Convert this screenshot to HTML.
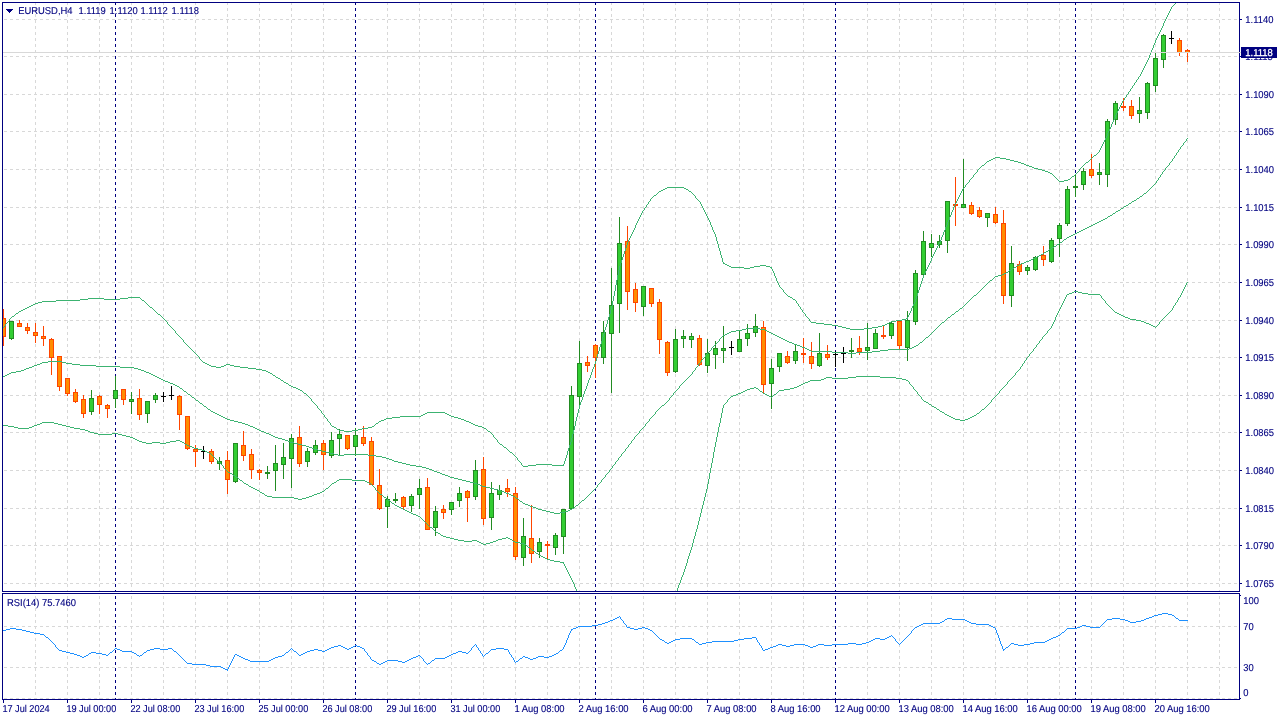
<!DOCTYPE html><html><head><meta charset="utf-8"><title>EURUSD,H4</title><style>html,body{margin:0;padding:0;background:#fff;overflow:hidden}svg{display:block}text{stroke:#000080;stroke-width:.12px}</style></head><body><svg width="1280" height="720" viewBox="0 0 1280 720" font-family="Liberation Sans, sans-serif" font-size="10" text-rendering="geometricPrecision" fill="#000080">
<rect width="1280" height="720" fill="#fff"/>
<defs><clipPath id="cm"><rect x="3" y="3" width="1236" height="588"/></clipPath><clipPath id="cr"><rect x="3" y="594" width="1236" height="105"/></clipPath></defs>
<g shape-rendering="crispEdges" stroke="#d8d8d8" stroke-width="1" stroke-dasharray="3 3" fill="none"><path d="M35.5 2V699"/><path d="M67.5 2V699"/><path d="M99.5 2V699"/><path d="M131.5 2V699"/><path d="M163.5 2V699"/><path d="M195.5 2V699"/><path d="M227.5 2V699"/><path d="M259.5 2V699"/><path d="M291.5 2V699"/><path d="M323.5 2V699"/><path d="M355.5 2V699"/><path d="M387.5 2V699"/><path d="M419.5 2V699"/><path d="M451.5 2V699"/><path d="M483.5 2V699"/><path d="M515.5 2V699"/><path d="M547.5 2V699"/><path d="M579.5 2V699"/><path d="M611.5 2V699"/><path d="M643.5 2V699"/><path d="M675.5 2V699"/><path d="M707.5 2V699"/><path d="M739.5 2V699"/><path d="M771.5 2V699"/><path d="M803.5 2V699"/><path d="M835.5 2V699"/><path d="M867.5 2V699"/><path d="M899.5 2V699"/><path d="M931.5 2V699"/><path d="M963.5 2V699"/><path d="M995.5 2V699"/><path d="M1027.5 2V699"/><path d="M1059.5 2V699"/><path d="M1091.5 2V699"/><path d="M1123.5 2V699"/><path d="M1155.5 2V699"/><path d="M1187.5 2V699"/><path d="M1219.5 2V699"/><path d="M4 19.5H1239"/><path d="M4 56.5H1239"/><path d="M4 94.5H1239"/><path d="M4 131.5H1239"/><path d="M4 169.5H1239"/><path d="M4 207.5H1239"/><path d="M4 244.5H1239"/><path d="M4 282.5H1239"/><path d="M4 320.5H1239"/><path d="M4 357.5H1239"/><path d="M4 395.5H1239"/><path d="M4 432.5H1239"/><path d="M4 470.5H1239"/><path d="M4 508.5H1239"/><path d="M4 545.5H1239"/><path d="M4 583.5H1239"/><path d="M4 626.5H1239"/><path d="M4 667.5H1239"/><path d="M4 698.5H1239"/></g>
<path shape-rendering="crispEdges" d="M115.5 2V699M355.5 2V699M595.5 2V699M835.5 2V699M1075.5 2V699" stroke="#000080" stroke-width="1" stroke-dasharray="3 3" fill="none"/>
<g clip-path="url(#cm)" shape-rendering="crispEdges"><path d="M3.5 309V346" stroke="#ff4500" fill="none"/><rect x="1" y="318" width="5" height="19" fill="#ff4500"/><rect x="2" y="319" width="3" height="17" fill="#ff8c00"/><path d="M11.5 321V340" stroke="#228b22" fill="none"/><rect x="9" y="321" width="5" height="18" fill="#228b22"/><rect x="10" y="322" width="3" height="16" fill="#32cd32"/><path d="M19.5 320V327" stroke="#ff4500" fill="none"/><rect x="17" y="323" width="5" height="4" fill="#ff4500"/><rect x="18" y="324" width="3" height="2" fill="#ff8c00"/><path d="M27.5 323V334" stroke="#ff4500" fill="none"/><rect x="25" y="327" width="5" height="4" fill="#ff4500"/><rect x="26" y="328" width="3" height="2" fill="#ff8c00"/><path d="M35.5 323V343" stroke="#ff4500" fill="none"/><rect x="33" y="332" width="5" height="4" fill="#ff4500"/><rect x="34" y="333" width="3" height="2" fill="#ff8c00"/><path d="M43.5 326V346" stroke="#ff4500" fill="none"/><rect x="41" y="336" width="5" height="3" fill="#ff4500"/><rect x="42" y="337" width="3" height="1" fill="#ff8c00"/><path d="M51.5 338V375" stroke="#ff4500" fill="none"/><rect x="49" y="339" width="5" height="19" fill="#ff4500"/><rect x="50" y="340" width="3" height="17" fill="#ff8c00"/><path d="M59.5 356V391" stroke="#ff4500" fill="none"/><rect x="57" y="356" width="5" height="31" fill="#ff4500"/><rect x="58" y="357" width="3" height="29" fill="#ff8c00"/><path d="M67.5 378V396" stroke="#ff4500" fill="none"/><rect x="65" y="378" width="5" height="16" fill="#ff4500"/><rect x="66" y="379" width="3" height="14" fill="#ff8c00"/><path d="M75.5 389V403" stroke="#ff4500" fill="none"/><rect x="73" y="392" width="5" height="10" fill="#ff4500"/><rect x="74" y="393" width="3" height="8" fill="#ff8c00"/><path d="M83.5 395V418" stroke="#ff4500" fill="none"/><rect x="81" y="399" width="5" height="15" fill="#ff4500"/><rect x="82" y="400" width="3" height="13" fill="#ff8c00"/><path d="M91.5 390V415" stroke="#228b22" fill="none"/><rect x="89" y="398" width="5" height="14" fill="#228b22"/><rect x="90" y="399" width="3" height="12" fill="#32cd32"/><path d="M99.5 395V414" stroke="#ff4500" fill="none"/><rect x="97" y="396" width="5" height="9" fill="#ff4500"/><rect x="98" y="397" width="3" height="7" fill="#ff8c00"/><path d="M107.5 404V418" stroke="#ff4500" fill="none"/><rect x="105" y="405" width="5" height="4" fill="#ff4500"/><rect x="106" y="406" width="3" height="2" fill="#ff8c00"/><path d="M115.5 376V408" stroke="#228b22" fill="none"/><rect x="113" y="390" width="5" height="9" fill="#228b22"/><rect x="114" y="391" width="3" height="7" fill="#32cd32"/><path d="M123.5 389V405" stroke="#ff4500" fill="none"/><rect x="121" y="389" width="5" height="11" fill="#ff4500"/><rect x="122" y="390" width="3" height="9" fill="#ff8c00"/><path d="M131.5 392V414" stroke="#228b22" fill="none"/><rect x="129" y="399" width="5" height="3" fill="#228b22"/><rect x="130" y="400" width="3" height="1" fill="#32cd32"/><path d="M139.5 389V420" stroke="#ff4500" fill="none"/><rect x="137" y="398" width="5" height="17" fill="#ff4500"/><rect x="138" y="399" width="3" height="15" fill="#ff8c00"/><path d="M147.5 401V423" stroke="#228b22" fill="none"/><rect x="145" y="401" width="5" height="13" fill="#228b22"/><rect x="146" y="402" width="3" height="11" fill="#32cd32"/><path d="M155.5 393V403" stroke="#228b22" fill="none"/><rect x="153" y="395" width="5" height="5" fill="#228b22"/><rect x="154" y="396" width="3" height="3" fill="#32cd32"/><path d="M163.5 392V402M161 396.5H166" stroke="#000" fill="none"/><path d="M171.5 386V400M169 395.5H174" stroke="#000" fill="none"/><path d="M179.5 395V430" stroke="#ff4500" fill="none"/><rect x="177" y="396" width="5" height="19" fill="#ff4500"/><rect x="178" y="397" width="3" height="17" fill="#ff8c00"/><path d="M187.5 416V450" stroke="#ff4500" fill="none"/><rect x="185" y="416" width="5" height="33" fill="#ff4500"/><rect x="186" y="417" width="3" height="31" fill="#ff8c00"/><path d="M195.5 445V467" stroke="#ff4500" fill="none"/><rect x="193" y="449" width="5" height="3" fill="#ff4500"/><rect x="194" y="450" width="3" height="1" fill="#ff8c00"/><path d="M203.5 446V459M201 451.5H206" stroke="#000" fill="none"/><path d="M211.5 449V464" stroke="#ff4500" fill="none"/><rect x="209" y="451" width="5" height="11" fill="#ff4500"/><rect x="210" y="452" width="3" height="9" fill="#ff8c00"/><path d="M219.5 457V470" stroke="#228b22" fill="none"/><rect x="217" y="461" width="5" height="3" fill="#228b22"/><rect x="218" y="462" width="3" height="1" fill="#32cd32"/><path d="M227.5 451V494" stroke="#ff4500" fill="none"/><rect x="225" y="460" width="5" height="20" fill="#ff4500"/><rect x="226" y="461" width="3" height="18" fill="#ff8c00"/><path d="M235.5 443V483" stroke="#228b22" fill="none"/><rect x="233" y="443" width="5" height="39" fill="#228b22"/><rect x="234" y="444" width="3" height="37" fill="#32cd32"/><path d="M243.5 431V461" stroke="#ff4500" fill="none"/><rect x="241" y="445" width="5" height="11" fill="#ff4500"/><rect x="242" y="446" width="3" height="9" fill="#ff8c00"/><path d="M251.5 449V479" stroke="#ff4500" fill="none"/><rect x="249" y="454" width="5" height="16" fill="#ff4500"/><rect x="250" y="455" width="3" height="14" fill="#ff8c00"/><path d="M259.5 469V480" stroke="#ff4500" fill="none"/><rect x="257" y="470" width="5" height="3" fill="#ff4500"/><rect x="258" y="471" width="3" height="1" fill="#ff8c00"/><path d="M267.5 466V479" stroke="#228b22" fill="none"/><rect x="265" y="472" width="5" height="2" fill="#228b22"/><path d="M275.5 445V491" stroke="#228b22" fill="none"/><rect x="273" y="463" width="5" height="8" fill="#228b22"/><rect x="274" y="464" width="3" height="6" fill="#32cd32"/><path d="M283.5 443V479" stroke="#228b22" fill="none"/><rect x="281" y="457" width="5" height="8" fill="#228b22"/><rect x="282" y="458" width="3" height="6" fill="#32cd32"/><path d="M291.5 434V488" stroke="#228b22" fill="none"/><rect x="289" y="438" width="5" height="21" fill="#228b22"/><rect x="290" y="439" width="3" height="19" fill="#32cd32"/><path d="M299.5 426V467" stroke="#ff4500" fill="none"/><rect x="297" y="437" width="5" height="27" fill="#ff4500"/><rect x="298" y="438" width="3" height="25" fill="#ff8c00"/><path d="M307.5 448V467" stroke="#228b22" fill="none"/><rect x="305" y="451" width="5" height="11" fill="#228b22"/><rect x="306" y="452" width="3" height="9" fill="#32cd32"/><path d="M315.5 440V455" stroke="#228b22" fill="none"/><rect x="313" y="445" width="5" height="8" fill="#228b22"/><rect x="314" y="446" width="3" height="6" fill="#32cd32"/><path d="M323.5 440V470" stroke="#ff4500" fill="none"/><rect x="321" y="443" width="5" height="12" fill="#ff4500"/><rect x="322" y="444" width="3" height="10" fill="#ff8c00"/><path d="M331.5 432V458" stroke="#228b22" fill="none"/><rect x="329" y="440" width="5" height="16" fill="#228b22"/><rect x="330" y="441" width="3" height="14" fill="#32cd32"/><path d="M339.5 429V456" stroke="#228b22" fill="none"/><rect x="337" y="434" width="5" height="5" fill="#228b22"/><rect x="338" y="435" width="3" height="3" fill="#32cd32"/><path d="M347.5 435V450" stroke="#ff4500" fill="none"/><rect x="345" y="435" width="5" height="14" fill="#ff4500"/><rect x="346" y="436" width="3" height="12" fill="#ff8c00"/><path d="M355.5 428V456" stroke="#228b22" fill="none"/><rect x="353" y="435" width="5" height="12" fill="#228b22"/><rect x="354" y="436" width="3" height="10" fill="#32cd32"/><path d="M363.5 426V446" stroke="#ff4500" fill="none"/><rect x="361" y="437" width="5" height="7" fill="#ff4500"/><rect x="362" y="438" width="3" height="5" fill="#ff8c00"/><path d="M371.5 437V485" stroke="#ff4500" fill="none"/><rect x="369" y="441" width="5" height="44" fill="#ff4500"/><rect x="370" y="442" width="3" height="42" fill="#ff8c00"/><path d="M379.5 469V510" stroke="#ff4500" fill="none"/><rect x="377" y="485" width="5" height="24" fill="#ff4500"/><rect x="378" y="486" width="3" height="22" fill="#ff8c00"/><path d="M387.5 496V528" stroke="#228b22" fill="none"/><rect x="385" y="499" width="5" height="8" fill="#228b22"/><rect x="386" y="500" width="3" height="6" fill="#32cd32"/><path d="M395.5 493V503" stroke="#228b22" fill="none"/><rect x="393" y="499" width="5" height="2" fill="#228b22"/><path d="M403.5 496V509" stroke="#ff4500" fill="none"/><rect x="401" y="497" width="5" height="10" fill="#ff4500"/><rect x="402" y="498" width="3" height="8" fill="#ff8c00"/><path d="M411.5 494V512" stroke="#228b22" fill="none"/><rect x="409" y="496" width="5" height="10" fill="#228b22"/><rect x="410" y="497" width="3" height="8" fill="#32cd32"/><path d="M419.5 479V509" stroke="#228b22" fill="none"/><rect x="417" y="488" width="5" height="7" fill="#228b22"/><rect x="418" y="489" width="3" height="5" fill="#32cd32"/><path d="M427.5 478V530" stroke="#ff4500" fill="none"/><rect x="425" y="487" width="5" height="43" fill="#ff4500"/><rect x="426" y="488" width="3" height="41" fill="#ff8c00"/><path d="M435.5 506V536" stroke="#228b22" fill="none"/><rect x="433" y="511" width="5" height="17" fill="#228b22"/><rect x="434" y="512" width="3" height="15" fill="#32cd32"/><path d="M443.5 505V519" stroke="#ff4500" fill="none"/><rect x="441" y="509" width="5" height="4" fill="#ff4500"/><rect x="442" y="510" width="3" height="2" fill="#ff8c00"/><path d="M451.5 502V515" stroke="#228b22" fill="none"/><rect x="449" y="502" width="5" height="8" fill="#228b22"/><rect x="450" y="503" width="3" height="6" fill="#32cd32"/><path d="M459.5 487V507" stroke="#228b22" fill="none"/><rect x="457" y="493" width="5" height="8" fill="#228b22"/><rect x="458" y="494" width="3" height="6" fill="#32cd32"/><path d="M467.5 490V522" stroke="#ff4500" fill="none"/><rect x="465" y="491" width="5" height="7" fill="#ff4500"/><rect x="466" y="492" width="3" height="5" fill="#ff8c00"/><path d="M475.5 460V500" stroke="#228b22" fill="none"/><rect x="473" y="470" width="5" height="27" fill="#228b22"/><rect x="474" y="471" width="3" height="25" fill="#32cd32"/><path d="M483.5 457V525" stroke="#ff4500" fill="none"/><rect x="481" y="469" width="5" height="50" fill="#ff4500"/><rect x="482" y="470" width="3" height="48" fill="#ff8c00"/><path d="M491.5 482V530" stroke="#228b22" fill="none"/><rect x="489" y="493" width="5" height="25" fill="#228b22"/><rect x="490" y="494" width="3" height="23" fill="#32cd32"/><path d="M499.5 485V500" stroke="#228b22" fill="none"/><rect x="497" y="490" width="5" height="5" fill="#228b22"/><rect x="498" y="491" width="3" height="3" fill="#32cd32"/><path d="M507.5 479V497" stroke="#ff4500" fill="none"/><rect x="505" y="488" width="5" height="4" fill="#ff4500"/><rect x="506" y="489" width="3" height="2" fill="#ff8c00"/><path d="M515.5 487V560" stroke="#ff4500" fill="none"/><rect x="513" y="493" width="5" height="64" fill="#ff4500"/><rect x="514" y="494" width="3" height="62" fill="#ff8c00"/><path d="M523.5 518V566" stroke="#228b22" fill="none"/><rect x="521" y="536" width="5" height="22" fill="#228b22"/><rect x="522" y="537" width="3" height="20" fill="#32cd32"/><path d="M531.5 505V563" stroke="#ff4500" fill="none"/><rect x="529" y="538" width="5" height="16" fill="#ff4500"/><rect x="530" y="539" width="3" height="14" fill="#ff8c00"/><path d="M539.5 538V558" stroke="#228b22" fill="none"/><rect x="537" y="542" width="5" height="10" fill="#228b22"/><rect x="538" y="543" width="3" height="8" fill="#32cd32"/><path d="M547.5 541V559" stroke="#ff4500" fill="none"/><rect x="545" y="544" width="5" height="2" fill="#ff4500"/><path d="M555.5 533V555" stroke="#228b22" fill="none"/><rect x="553" y="535" width="5" height="13" fill="#228b22"/><rect x="554" y="536" width="3" height="11" fill="#32cd32"/><path d="M563.5 509V554" stroke="#228b22" fill="none"/><rect x="561" y="509" width="5" height="28" fill="#228b22"/><rect x="562" y="510" width="3" height="26" fill="#32cd32"/><path d="M571.5 386V509" stroke="#228b22" fill="none"/><rect x="569" y="395" width="5" height="114" fill="#228b22"/><rect x="570" y="396" width="3" height="112" fill="#32cd32"/><path d="M579.5 341V406" stroke="#228b22" fill="none"/><rect x="577" y="363" width="5" height="34" fill="#228b22"/><rect x="578" y="364" width="3" height="32" fill="#32cd32"/><path d="M587.5 356V372" stroke="#ff4500" fill="none"/><rect x="585" y="362" width="5" height="4" fill="#ff4500"/><rect x="586" y="363" width="3" height="2" fill="#ff8c00"/><path d="M595.5 344V378" stroke="#ff4500" fill="none"/><rect x="593" y="345" width="5" height="13" fill="#ff4500"/><rect x="594" y="346" width="3" height="11" fill="#ff8c00"/><path d="M603.5 321V364" stroke="#228b22" fill="none"/><rect x="601" y="332" width="5" height="26" fill="#228b22"/><rect x="602" y="333" width="3" height="24" fill="#32cd32"/><path d="M611.5 268V393" stroke="#228b22" fill="none"/><rect x="609" y="305" width="5" height="29" fill="#228b22"/><rect x="610" y="306" width="3" height="27" fill="#32cd32"/><path d="M619.5 217V333" stroke="#228b22" fill="none"/><rect x="617" y="243" width="5" height="61" fill="#228b22"/><rect x="618" y="244" width="3" height="59" fill="#32cd32"/><path d="M627.5 226V310" stroke="#ff4500" fill="none"/><rect x="625" y="241" width="5" height="51" fill="#ff4500"/><rect x="626" y="242" width="3" height="49" fill="#ff8c00"/><path d="M635.5 283V312" stroke="#ff4500" fill="none"/><rect x="633" y="289" width="5" height="14" fill="#ff4500"/><rect x="634" y="290" width="3" height="12" fill="#ff8c00"/><path d="M643.5 286V316" stroke="#228b22" fill="none"/><rect x="641" y="286" width="5" height="21" fill="#228b22"/><rect x="642" y="287" width="3" height="19" fill="#32cd32"/><path d="M651.5 288V307" stroke="#ff4500" fill="none"/><rect x="649" y="288" width="5" height="16" fill="#ff4500"/><rect x="650" y="289" width="3" height="14" fill="#ff8c00"/><path d="M659.5 299V354" stroke="#ff4500" fill="none"/><rect x="657" y="302" width="5" height="38" fill="#ff4500"/><rect x="658" y="303" width="3" height="36" fill="#ff8c00"/><path d="M667.5 341V376" stroke="#ff4500" fill="none"/><rect x="665" y="342" width="5" height="31" fill="#ff4500"/><rect x="666" y="343" width="3" height="29" fill="#ff8c00"/><path d="M675.5 329V373" stroke="#228b22" fill="none"/><rect x="673" y="339" width="5" height="33" fill="#228b22"/><rect x="674" y="340" width="3" height="31" fill="#32cd32"/><path d="M683.5 330V348" stroke="#228b22" fill="none"/><rect x="681" y="336" width="5" height="3" fill="#228b22"/><rect x="682" y="337" width="3" height="1" fill="#32cd32"/><path d="M691.5 333V348" stroke="#228b22" fill="none"/><rect x="689" y="336" width="5" height="4" fill="#228b22"/><rect x="690" y="337" width="3" height="2" fill="#32cd32"/><path d="M699.5 335V366" stroke="#ff4500" fill="none"/><rect x="697" y="338" width="5" height="27" fill="#ff4500"/><rect x="698" y="339" width="3" height="25" fill="#ff8c00"/><path d="M707.5 339V373" stroke="#228b22" fill="none"/><rect x="705" y="353" width="5" height="13" fill="#228b22"/><rect x="706" y="354" width="3" height="11" fill="#32cd32"/><path d="M715.5 341V369" stroke="#228b22" fill="none"/><rect x="713" y="348" width="5" height="7" fill="#228b22"/><rect x="714" y="349" width="3" height="5" fill="#32cd32"/><path d="M723.5 326V363" stroke="#228b22" fill="none"/><rect x="721" y="348" width="5" height="3" fill="#228b22"/><rect x="722" y="349" width="3" height="1" fill="#32cd32"/><path d="M731.5 341V355M729 347.5H734" stroke="#000" fill="none"/><path d="M739.5 330V352" stroke="#228b22" fill="none"/><rect x="737" y="339" width="5" height="13" fill="#228b22"/><rect x="738" y="340" width="3" height="11" fill="#32cd32"/><path d="M747.5 324V346" stroke="#228b22" fill="none"/><rect x="745" y="333" width="5" height="6" fill="#228b22"/><rect x="746" y="334" width="3" height="4" fill="#32cd32"/><path d="M755.5 314V337" stroke="#228b22" fill="none"/><rect x="753" y="326" width="5" height="7" fill="#228b22"/><rect x="754" y="327" width="3" height="5" fill="#32cd32"/><path d="M763.5 321V394" stroke="#ff4500" fill="none"/><rect x="761" y="327" width="5" height="58" fill="#ff4500"/><rect x="762" y="328" width="3" height="56" fill="#ff8c00"/><path d="M771.5 359V409" stroke="#228b22" fill="none"/><rect x="769" y="368" width="5" height="16" fill="#228b22"/><rect x="770" y="369" width="3" height="14" fill="#32cd32"/><path d="M779.5 353V372" stroke="#228b22" fill="none"/><rect x="777" y="353" width="5" height="14" fill="#228b22"/><rect x="778" y="354" width="3" height="12" fill="#32cd32"/><path d="M787.5 351V364" stroke="#ff4500" fill="none"/><rect x="785" y="356" width="5" height="7" fill="#ff4500"/><rect x="786" y="357" width="3" height="5" fill="#ff8c00"/><path d="M795.5 344V364" stroke="#228b22" fill="none"/><rect x="793" y="351" width="5" height="10" fill="#228b22"/><rect x="794" y="352" width="3" height="8" fill="#32cd32"/><path d="M803.5 338V363" stroke="#ff4500" fill="none"/><rect x="801" y="353" width="5" height="2" fill="#ff4500"/><path d="M811.5 342V369" stroke="#ff4500" fill="none"/><rect x="809" y="356" width="5" height="8" fill="#ff4500"/><rect x="810" y="357" width="3" height="6" fill="#ff8c00"/><path d="M819.5 333V367" stroke="#228b22" fill="none"/><rect x="817" y="353" width="5" height="13" fill="#228b22"/><rect x="818" y="354" width="3" height="11" fill="#32cd32"/><path d="M827.5 345V360" stroke="#ff4500" fill="none"/><rect x="825" y="354" width="5" height="4" fill="#ff4500"/><rect x="826" y="355" width="3" height="2" fill="#ff8c00"/><path d="M835.5 351V367M833 354.5H838" stroke="#000" fill="none"/><path d="M843.5 347V363M841 353.5H846" stroke="#000" fill="none"/><path d="M851.5 338V358" stroke="#228b22" fill="none"/><rect x="849" y="350" width="5" height="2" fill="#228b22"/><path d="M859.5 336V355" stroke="#ff4500" fill="none"/><rect x="857" y="348" width="5" height="4" fill="#ff4500"/><rect x="858" y="349" width="3" height="2" fill="#ff8c00"/><path d="M867.5 323V360" stroke="#228b22" fill="none"/><rect x="865" y="347" width="5" height="4" fill="#228b22"/><rect x="866" y="348" width="3" height="2" fill="#32cd32"/><path d="M875.5 329V349" stroke="#228b22" fill="none"/><rect x="873" y="333" width="5" height="16" fill="#228b22"/><rect x="874" y="334" width="3" height="14" fill="#32cd32"/><path d="M883.5 326V339" stroke="#ff4500" fill="none"/><rect x="881" y="335" width="5" height="2" fill="#ff4500"/><path d="M891.5 322V339" stroke="#228b22" fill="none"/><rect x="889" y="323" width="5" height="13" fill="#228b22"/><rect x="890" y="324" width="3" height="11" fill="#32cd32"/><path d="M899.5 320V350" stroke="#ff4500" fill="none"/><rect x="897" y="321" width="5" height="25" fill="#ff4500"/><rect x="898" y="322" width="3" height="23" fill="#ff8c00"/><path d="M907.5 311V361" stroke="#228b22" fill="none"/><rect x="905" y="320" width="5" height="28" fill="#228b22"/><rect x="906" y="321" width="3" height="26" fill="#32cd32"/><path d="M915.5 270V325" stroke="#228b22" fill="none"/><rect x="913" y="273" width="5" height="49" fill="#228b22"/><rect x="914" y="274" width="3" height="47" fill="#32cd32"/><path d="M923.5 231V277" stroke="#228b22" fill="none"/><rect x="921" y="241" width="5" height="34" fill="#228b22"/><rect x="922" y="242" width="3" height="32" fill="#32cd32"/><path d="M931.5 234V257" stroke="#228b22" fill="none"/><rect x="929" y="243" width="5" height="5" fill="#228b22"/><rect x="930" y="244" width="3" height="3" fill="#32cd32"/><path d="M939.5 235V248" stroke="#228b22" fill="none"/><rect x="937" y="241" width="5" height="4" fill="#228b22"/><rect x="938" y="242" width="3" height="2" fill="#32cd32"/><path d="M947.5 201V253" stroke="#228b22" fill="none"/><rect x="945" y="201" width="5" height="40" fill="#228b22"/><rect x="946" y="202" width="3" height="38" fill="#32cd32"/><path d="M955.5 177V226" stroke="#ff4500" fill="none"/><rect x="953" y="204" width="5" height="2" fill="#ff4500"/><path d="M963.5 159V208" stroke="#228b22" fill="none"/><rect x="961" y="204" width="5" height="4" fill="#228b22"/><rect x="962" y="205" width="3" height="2" fill="#32cd32"/><path d="M971.5 202V215" stroke="#ff4500" fill="none"/><rect x="969" y="205" width="5" height="9" fill="#ff4500"/><rect x="970" y="206" width="3" height="7" fill="#ff8c00"/><path d="M979.5 207V218" stroke="#ff4500" fill="none"/><rect x="977" y="210" width="5" height="7" fill="#ff4500"/><rect x="978" y="211" width="3" height="5" fill="#ff8c00"/><path d="M987.5 213V227" stroke="#228b22" fill="none"/><rect x="985" y="213" width="5" height="5" fill="#228b22"/><rect x="986" y="214" width="3" height="3" fill="#32cd32"/><path d="M995.5 207V224" stroke="#ff4500" fill="none"/><rect x="993" y="214" width="5" height="9" fill="#ff4500"/><rect x="994" y="215" width="3" height="7" fill="#ff8c00"/><path d="M1003.5 210V304" stroke="#ff4500" fill="none"/><rect x="1001" y="223" width="5" height="73" fill="#ff4500"/><rect x="1002" y="224" width="3" height="71" fill="#ff8c00"/><path d="M1011.5 246V307" stroke="#228b22" fill="none"/><rect x="1009" y="263" width="5" height="33" fill="#228b22"/><rect x="1010" y="264" width="3" height="31" fill="#32cd32"/><path d="M1019.5 261V275" stroke="#ff4500" fill="none"/><rect x="1017" y="264" width="5" height="8" fill="#ff4500"/><rect x="1018" y="265" width="3" height="6" fill="#ff8c00"/><path d="M1027.5 265V275" stroke="#228b22" fill="none"/><rect x="1025" y="267" width="5" height="4" fill="#228b22"/><rect x="1026" y="268" width="3" height="2" fill="#32cd32"/><path d="M1035.5 256V271" stroke="#228b22" fill="none"/><rect x="1033" y="257" width="5" height="13" fill="#228b22"/><rect x="1034" y="258" width="3" height="11" fill="#32cd32"/><path d="M1043.5 246V266" stroke="#ff4500" fill="none"/><rect x="1041" y="255" width="5" height="5" fill="#ff4500"/><rect x="1042" y="256" width="3" height="3" fill="#ff8c00"/><path d="M1051.5 238V263" stroke="#228b22" fill="none"/><rect x="1049" y="240" width="5" height="22" fill="#228b22"/><rect x="1050" y="241" width="3" height="20" fill="#32cd32"/><path d="M1059.5 223V257" stroke="#228b22" fill="none"/><rect x="1057" y="225" width="5" height="14" fill="#228b22"/><rect x="1058" y="226" width="3" height="12" fill="#32cd32"/><path d="M1067.5 186V226" stroke="#228b22" fill="none"/><rect x="1065" y="189" width="5" height="35" fill="#228b22"/><rect x="1066" y="190" width="3" height="33" fill="#32cd32"/><path d="M1075.5 174V197" stroke="#228b22" fill="none"/><rect x="1073" y="186" width="5" height="2" fill="#228b22"/><path d="M1083.5 168V190" stroke="#228b22" fill="none"/><rect x="1081" y="171" width="5" height="14" fill="#228b22"/><rect x="1082" y="172" width="3" height="12" fill="#32cd32"/><path d="M1091.5 154V178" stroke="#ff4500" fill="none"/><rect x="1089" y="169" width="5" height="7" fill="#ff4500"/><rect x="1090" y="170" width="3" height="5" fill="#ff8c00"/><path d="M1099.5 163V185" stroke="#228b22" fill="none"/><rect x="1097" y="172" width="5" height="3" fill="#228b22"/><rect x="1098" y="173" width="3" height="1" fill="#32cd32"/><path d="M1107.5 119V187" stroke="#228b22" fill="none"/><rect x="1105" y="121" width="5" height="54" fill="#228b22"/><rect x="1106" y="122" width="3" height="52" fill="#32cd32"/><path d="M1115.5 101V125" stroke="#228b22" fill="none"/><rect x="1113" y="103" width="5" height="17" fill="#228b22"/><rect x="1114" y="104" width="3" height="15" fill="#32cd32"/><path d="M1123.5 98V111" stroke="#ff4500" fill="none"/><rect x="1121" y="106" width="5" height="2" fill="#ff4500"/><path d="M1131.5 100V119" stroke="#ff4500" fill="none"/><rect x="1129" y="106" width="5" height="10" fill="#ff4500"/><rect x="1130" y="107" width="3" height="8" fill="#ff8c00"/><path d="M1139.5 97V123" stroke="#228b22" fill="none"/><rect x="1137" y="110" width="5" height="4" fill="#228b22"/><rect x="1138" y="111" width="3" height="2" fill="#32cd32"/><path d="M1147.5 82V119" stroke="#228b22" fill="none"/><rect x="1145" y="83" width="5" height="30" fill="#228b22"/><rect x="1146" y="84" width="3" height="28" fill="#32cd32"/><path d="M1155.5 52V92" stroke="#228b22" fill="none"/><rect x="1153" y="58" width="5" height="28" fill="#228b22"/><rect x="1154" y="59" width="3" height="26" fill="#32cd32"/><path d="M1163.5 34V68" stroke="#228b22" fill="none"/><rect x="1161" y="35" width="5" height="25" fill="#228b22"/><rect x="1162" y="36" width="3" height="23" fill="#32cd32"/><path d="M1171.5 31V44M1169 38.5H1174" stroke="#000" fill="none"/><path d="M1179.5 38V56" stroke="#ff4500" fill="none"/><rect x="1177" y="40" width="5" height="13" fill="#ff4500"/><rect x="1178" y="41" width="3" height="11" fill="#ff8c00"/><path d="M1187.5 49V62" stroke="#ff4500" fill="none"/><rect x="1185" y="50" width="5" height="3" fill="#ff4500"/><rect x="1186" y="51" width="3" height="1" fill="#ff8c00"/></g>
<path shape-rendering="crispEdges" d="M3.5 327v1M4.5 326v1M5.5 324v2M6.5 323v1M7.5 322v1M8.5 321v1M9.5 319v2M10.5 318v1M11 317.5h1M12 316.5h2M14 315.5h1M15 314.5h1M16 313.5h2M18 312.5h1M19 311.5h2M21 310.5h2M23 309.5h2M25 308.5h2M27 307.5h2M29 306.5h2M31 305.5h2M33 304.5h2M35 303.5h3M38 302.5h4M42 301.5h1M43 301.5h8M51 301.5h5M56 300.5h3M59 300.5h8M67 300.5h8M75 300.5h5M80 299.5h3M83 299.5h5M88 298.5h3M91 298.5h8M99 298.5h5M104 299.5h3M107 299.5h8M115 299.5h5M120 298.5h3M123 298.5h5M128 297.5h3M131 297.5h8M139 297.5h1M140 298.5h1M141 299.5h1M142 300.5h2M144 301.5h1M145 302.5h1M146 303.5h1M147 304.5h1M148 305.5h1M149 306.5h1M150 307.5h2M152 308.5h1M153 309.5h1M154 310.5h1M155 311.5h1M156 312.5h1M157 313.5h1M158 314.5h2M160 315.5h1M161 316.5h1M162 317.5h1M163.5 318v1M164.5 319v1M165.5 320v1M166.5 321v1M167.5 322v2M168.5 324v1M169.5 325v1M170.5 326v1M171.5 327v1M172.5 328v1M173.5 329v1M174.5 330v1M175.5 331v2M176.5 333v1M177.5 334v1M178.5 335v1M179.5 336v1M180.5 337v1M181.5 338v1M182.5 339v1M183.5 340v2M184.5 342v1M185.5 343v1M186.5 344v1M187 345.5h1M188 346.5h1M189 347.5h1M190 348.5h1M191 349.5h1M192 350.5h1M193 351.5h1M194 352.5h1M195.5 353v1M196.5 354v1M197.5 355v1M198.5 356v1M199.5 357v2M200.5 359v1M201.5 360v1M202.5 361v1M203 362.5h2M205 363.5h2M207 364.5h2M209 365.5h2M211 366.5h5M216 367.5h3M219 367.5h2M221 366.5h3M224 365.5h2M226 364.5h1M227 364.5h3M230 365.5h4M234 366.5h1M235 366.5h5M240 367.5h3M243 367.5h5M248 368.5h3M251 368.5h5M256 369.5h3M259 369.5h3M262 370.5h4M266 371.5h1M267 371.5h1M268 372.5h2M270 373.5h2M272 374.5h1M273 375.5h2M275 376.5h1M276 377.5h2M278 378.5h2M280 379.5h1M281 380.5h2M283 381.5h1M284 382.5h2M286 383.5h2M288 384.5h1M289 385.5h2M291 386.5h2M293 387.5h3M296 388.5h2M298 389.5h1M299 389.5h1M300 390.5h2M302 391.5h1M303 392.5h1M304 393.5h2M306 394.5h1M307.5 395v1M308.5 396v1M309.5 397v1M310.5 398v1M311.5 399v2M312.5 401v1M313.5 402v1M314.5 403v1M315.5 404v1M316.5 405v1M317.5 406v2M318.5 408v1M319.5 409v1M320.5 410v1M321.5 411v2M322.5 413v1M323.5 414v1M324.5 415v2M325.5 417v1M326.5 418v1M327.5 419v2M328.5 421v1M329.5 422v1M330.5 423v2M331 425.5h1M332 426.5h2M334 427.5h2M336 428.5h1M337 429.5h2M339 430.5h5M344 431.5h3M347 431.5h5M352 430.5h3M355 430.5h3M358 429.5h4M362 428.5h1M363 428.5h5M368 427.5h3M371 427.5h1M372 426.5h2M374 425.5h1M375 424.5h1M376 423.5h2M378 422.5h1M379 421.5h2M381 420.5h3M384 419.5h2M386 418.5h1M387 418.5h5M392 417.5h3M395 417.5h5M400 416.5h3M403 416.5h8M411 416.5h8M419 416.5h2M421 415.5h2M423 414.5h2M425 413.5h2M427 412.5h8M435 412.5h8M443 412.5h2M445 413.5h2M447 414.5h2M449 415.5h2M451 416.5h3M454 417.5h4M458 418.5h1M459 418.5h2M461 419.5h3M464 420.5h2M466 421.5h1M467 421.5h2M469 422.5h2M471 423.5h2M473 424.5h2M475 425.5h3M478 426.5h4M482 427.5h1M483 427.5h1M484 428.5h2M486 429.5h1M487 430.5h1M488 431.5h2M490 432.5h1M491.5 433v1M492.5 434v1M493.5 435v2M494.5 437v1M495.5 438v1M496.5 439v1M497.5 440v2M498.5 442v1M499 443.5h1M500 444.5h2M502 445.5h1M503 446.5h1M504 447.5h2M506 448.5h1M507 449.5h1M508 450.5h1M509 451.5h1M510 452.5h2M512 453.5h1M513 454.5h1M514 455.5h1M515.5 456v1M516.5 457v1M517.5 458v2M518.5 460v1M519.5 461v1M520.5 462v1M521.5 463v2M522.5 465v1M523 466.5h5M528 465.5h3M531 465.5h5M536 464.5h3M539 464.5h8M547 464.5h5M552 465.5h3M555 465.5h8M563.5 464v2M564.5 461v3M565.5 458v3M566.5 455v3M567.5 451v4M568.5 448v3M569.5 445v3M570.5 442v3M571.5 441v1M571.5 438v3M572.5 434v4M573.5 430v4M574.5 426v4M575.5 421v5M576.5 417v4M577.5 413v4M578.5 409v4M579.5 407v2M579.5 405v2M580.5 402v3M581.5 400v2M582.5 397v3M583.5 394v3M584.5 391v3M585.5 389v2M586.5 386v3M587.5 385v1M587.5 383v2M588.5 380v3M589.5 378v2M590.5 375v3M591.5 372v3M592.5 369v3M593.5 367v2M594.5 364v3M595.5 363v1M595.5 361v2M596.5 357v4M597.5 354v3M598.5 351v3M599.5 347v4M600.5 344v3M601.5 341v3M602.5 337v4M603.5 336v1M603.5 334v2M604.5 330v4M605.5 327v3M606.5 324v3M607.5 320v4M608.5 317v3M609.5 314v3M610.5 310v4M611.5 309v1M611.5 306v3M612.5 301v5M613.5 296v5M614.5 291v5M615.5 285v6M616.5 280v5M617.5 275v5M618.5 270v5M619.5 268v2M619.5 266v2M620.5 263v3M621.5 260v3M622.5 257v3M623.5 254v3M624.5 251v3M625.5 248v3M626.5 245v3M627.5 244v1M627.5 242v2M628.5 240v2M629.5 238v2M630.5 236v2M631.5 234v2M632.5 232v2M633.5 230v2M634.5 228v2M635.5 227v1M635.5 225v2M636.5 223v2M637.5 221v2M638.5 219v2M639.5 217v2M640.5 215v2M641.5 213v2M642.5 211v2M643.5 210v1M644.5 208v2M645.5 207v1M646.5 205v2M647.5 204v1M648.5 202v2M649.5 201v1M650.5 199v2M651 198.5h1M652 197.5h1M653 196.5h1M654 195.5h2M656 194.5h1M657 193.5h1M658 192.5h1M659 191.5h2M661 190.5h2M663 189.5h2M665 188.5h2M667 187.5h8M675 187.5h8M683 187.5h1M684 188.5h2M686 189.5h2M688 190.5h1M689 191.5h2M691.5 192v1M692.5 193v1M693.5 194v1M694.5 195v1M695.5 196v2M696.5 198v1M697.5 199v1M698.5 200v1M699.5 201v1M700.5 202v2M701.5 204v2M702.5 206v2M703.5 208v2M704.5 210v2M705.5 212v2M706.5 214v2M707.5 216v2M708.5 218v2M709.5 220v2M710.5 222v3M711.5 225v2M712.5 227v3M713.5 230v2M714.5 232v2M715.5 234v1M715.5 235v2M716.5 237v4M717.5 241v3M718.5 244v4M719.5 248v3M720.5 251v4M721.5 255v3M722.5 258v4M723.5 262v1M723 263.5h2M725 264.5h2M727 265.5h2M729 266.5h2M731 267.5h8M739 267.5h5M744 268.5h3M747 268.5h3M750 267.5h4M754 266.5h1M755 266.5h5M760 265.5h3M763 265.5h3M766 266.5h4M770 267.5h1M771.5 267v2M772.5 269v2M773.5 271v2M774.5 273v3M775.5 276v2M776.5 278v3M777.5 281v2M778.5 283v2M779.5 285v1M779.5 286v1M780.5 287v1M781.5 288v1M782.5 289v1M783.5 290v2M784.5 292v1M785.5 293v1M786.5 294v1M787 295.5h1M788 296.5h2M790 297.5h2M792 298.5h1M793 299.5h2M795.5 300v1M796.5 301v2M797.5 303v1M798.5 304v2M799.5 306v1M800.5 307v2M801.5 309v1M802.5 310v2M803.5 312v1M804.5 313v1M805.5 314v2M806.5 316v1M807.5 317v1M808.5 318v1M809.5 319v2M810.5 321v1M811 322.5h5M816 323.5h3M819 323.5h5M824 324.5h3M827 324.5h5M832 325.5h3M835 325.5h3M838 326.5h4M842 327.5h1M843 327.5h3M846 328.5h4M850 329.5h1M851 329.5h8M859 329.5h5M864 328.5h3M867 328.5h5M872 327.5h3M875 327.5h3M878 326.5h4M882 325.5h1M883 325.5h2M885 324.5h2M887 323.5h2M889 322.5h2M891 321.5h5M896 320.5h3M899 320.5h3M902 319.5h4M906 318.5h1M907.5 317v2M908.5 315v2M909.5 313v2M910.5 311v2M911.5 308v3M912.5 306v2M913.5 304v2M914.5 302v2M915.5 301v1M915.5 299v2M916.5 296v3M917.5 293v3M918.5 290v3M919.5 287v3M920.5 284v3M921.5 281v3M922.5 278v3M923.5 277v1M923.5 275v2M924.5 273v2M925.5 271v2M926.5 269v2M927.5 267v2M928.5 265v2M929.5 263v2M930.5 261v2M931.5 260v1M931.5 258v2M932.5 256v2M933.5 254v2M934.5 252v2M935.5 250v2M936.5 248v2M937.5 246v2M938.5 244v2M939.5 242v2M940.5 240v2M941.5 237v3M942.5 235v2M943.5 232v3M944.5 230v2M945.5 227v3M946.5 225v2M947.5 224v1M947.5 222v2M948.5 220v2M949.5 217v3M950.5 215v2M951.5 212v3M952.5 210v2M953.5 207v3M954.5 205v2M955.5 204v1M955.5 203v1M956.5 201v2M957.5 199v2M958.5 197v2M959.5 195v2M960.5 193v2M961.5 191v2M962.5 189v2M963.5 188v1M964.5 187v1M965.5 185v2M966.5 184v1M967.5 183v1M968.5 182v1M969.5 180v2M970.5 179v1M971.5 178v1M972.5 177v1M973.5 175v2M974.5 174v1M975.5 173v1M976.5 172v1M977.5 170v2M978.5 169v1M979 168.5h1M980 167.5h1M981 166.5h1M982 165.5h2M984 164.5h1M985 163.5h1M986 162.5h1M987 161.5h2M989 160.5h2M991 159.5h2M993 158.5h2M995 157.5h5M1000 158.5h3M1003 158.5h3M1006 159.5h4M1010 160.5h1M1011 160.5h3M1014 161.5h4M1018 162.5h1M1019 162.5h2M1021 163.5h3M1024 164.5h2M1026 165.5h1M1027 165.5h2M1029 166.5h3M1032 167.5h2M1034 168.5h1M1035 168.5h3M1038 169.5h4M1042 170.5h1M1043 170.5h2M1045 171.5h3M1048 172.5h2M1050 173.5h1M1051 173.5h1M1052 174.5h1M1053 175.5h1M1054 176.5h1M1055 177.5h1M1056 178.5h1M1057 179.5h1M1058 180.5h1M1059 181.5h5M1064 180.5h3M1067 180.5h1M1068 179.5h2M1070 178.5h1M1071 177.5h1M1072 176.5h2M1074 175.5h1M1075.5 174v1M1076.5 173v1M1077.5 172v1M1078.5 171v1M1079.5 169v2M1080.5 168v1M1081.5 167v1M1082.5 166v1M1083 165.5h1M1084 164.5h1M1085 163.5h1M1086 162.5h2M1088 161.5h1M1089 160.5h1M1090 159.5h1M1091 158.5h1M1092 157.5h1M1093 156.5h1M1094 155.5h2M1096 154.5h1M1097 153.5h1M1098 152.5h1M1099.5 150v2M1100.5 148v2M1101.5 146v2M1102.5 144v2M1103.5 142v2M1104.5 140v2M1105.5 138v2M1106.5 136v2M1107.5 135v1M1107.5 133v2M1108.5 131v2M1109.5 129v2M1110.5 127v2M1111.5 124v3M1112.5 122v2M1113.5 120v2M1114.5 118v2M1115.5 117v1M1115.5 115v2M1116.5 113v2M1117.5 111v2M1118.5 109v2M1119.5 107v2M1120.5 105v2M1121.5 103v2M1122.5 101v2M1123.5 100v1M1124.5 98v2M1125.5 97v1M1126.5 95v2M1127.5 94v1M1128.5 92v2M1129.5 91v1M1130.5 89v2M1131.5 88v1M1132.5 86v2M1133.5 85v1M1134.5 83v2M1135.5 82v1M1136.5 80v2M1137.5 79v1M1138.5 77v2M1139.5 76v1M1140.5 74v2M1141.5 72v2M1142.5 70v2M1143.5 68v2M1144.5 66v2M1145.5 64v2M1146.5 62v2M1147.5 60v2M1148.5 58v2M1149.5 55v3M1150.5 53v2M1151.5 50v3M1152.5 48v2M1153.5 45v3M1154.5 43v2M1155.5 42v1M1155.5 40v2M1156.5 38v2M1157.5 36v2M1158.5 34v2M1159.5 32v2M1160.5 30v2M1161.5 28v2M1162.5 26v2M1163.5 25v1M1163.5 23v2M1164.5 21v2M1165.5 19v2M1166.5 17v2M1167.5 15v2M1168.5 13v2M1169.5 11v2M1170.5 9v2M1171.5 8v1M1171.5 7v1M1172.5 6v1M1173.5 5v1M1174.5 4v1M1175.5 3v1" fill="none" stroke="#3cb371" stroke-width="1"/>
<path shape-rendering="crispEdges" d="M3 376.5h2M5 375.5h2M7 374.5h2M9 373.5h2M11 372.5h5M16 371.5h3M19 371.5h2M21 370.5h3M24 369.5h2M26 368.5h1M27 368.5h2M29 367.5h3M32 366.5h2M34 365.5h1M35 365.5h2M37 364.5h3M40 363.5h2M42 362.5h1M43 362.5h5M48 361.5h3M51 361.5h8M59 361.5h3M62 362.5h4M66 363.5h1M67 363.5h5M72 364.5h3M75 364.5h5M80 365.5h3M83 365.5h8M91 365.5h5M96 366.5h3M99 366.5h8M107 366.5h8M115 366.5h5M120 367.5h3M123 367.5h8M131 367.5h3M134 368.5h4M138 369.5h1M139 369.5h2M141 370.5h3M144 371.5h2M146 372.5h1M147 372.5h2M149 373.5h2M151 374.5h2M153 375.5h2M155 376.5h2M157 377.5h2M159 378.5h2M161 379.5h2M163 380.5h2M165 381.5h3M168 382.5h2M170 383.5h1M171 383.5h2M173 384.5h2M175 385.5h2M177 386.5h2M179 387.5h1M180 388.5h2M182 389.5h1M183 390.5h1M184 391.5h2M186 392.5h1M187 393.5h1M188 394.5h2M190 395.5h1M191 396.5h1M192 397.5h2M194 398.5h1M195 399.5h1M196 400.5h2M198 401.5h1M199 402.5h1M200 403.5h2M202 404.5h1M203 405.5h1M204 406.5h2M206 407.5h1M207 408.5h1M208 409.5h2M210 410.5h1M211 411.5h2M213 412.5h2M215 413.5h2M217 414.5h2M219 415.5h2M221 416.5h2M223 417.5h2M225 418.5h2M227 419.5h3M230 420.5h4M234 421.5h1M235 421.5h3M238 422.5h4M242 423.5h1M243 423.5h2M245 424.5h3M248 425.5h2M250 426.5h1M251 426.5h2M253 427.5h2M255 428.5h2M257 429.5h2M259 430.5h2M261 431.5h3M264 432.5h2M266 433.5h1M267 433.5h2M269 434.5h2M271 435.5h2M273 436.5h2M275 437.5h3M278 438.5h4M282 439.5h1M283 439.5h2M285 440.5h3M288 441.5h2M290 442.5h1M291 442.5h3M294 443.5h4M298 444.5h1M299 444.5h3M302 445.5h4M306 446.5h1M307 446.5h2M309 447.5h3M312 448.5h2M314 449.5h1M315 449.5h3M318 450.5h4M322 451.5h1M323 451.5h3M326 452.5h4M330 453.5h1M331 453.5h3M334 454.5h4M338 455.5h1M339 455.5h5M344 454.5h3M347 454.5h8M355 454.5h8M363 454.5h5M368 455.5h3M371 455.5h5M376 456.5h3M379 456.5h3M382 457.5h4M386 458.5h1M387 458.5h2M389 459.5h3M392 460.5h2M394 461.5h1M395 461.5h3M398 462.5h4M402 463.5h1M403 463.5h3M406 464.5h4M410 465.5h1M411 465.5h5M416 466.5h3M419 466.5h3M422 467.5h4M426 468.5h1M427 468.5h2M429 469.5h3M432 470.5h2M434 471.5h1M435 471.5h2M437 472.5h3M440 473.5h2M442 474.5h1M443 474.5h2M445 475.5h3M448 476.5h2M450 477.5h1M451 477.5h3M454 478.5h4M458 479.5h1M459 479.5h3M462 480.5h4M466 481.5h1M467 481.5h3M470 482.5h4M474 483.5h1M475 483.5h2M477 484.5h3M480 485.5h2M482 486.5h1M483 486.5h3M486 487.5h4M490 488.5h1M491 488.5h3M494 489.5h4M498 490.5h1M499 490.5h2M501 491.5h3M504 492.5h2M506 493.5h1M507 493.5h2M509 494.5h2M511 495.5h2M513 496.5h2M515 497.5h1M516 498.5h2M518 499.5h1M519 500.5h1M520 501.5h2M522 502.5h1M523 503.5h2M525 504.5h3M528 505.5h2M530 506.5h1M531 506.5h2M533 507.5h3M536 508.5h2M538 509.5h1M539 509.5h3M542 510.5h4M546 511.5h1M547 511.5h3M550 512.5h4M554 513.5h1M555 513.5h5M560 512.5h3M563 512.5h2M565 511.5h3M568 510.5h2M570 509.5h1M571 509.5h1M572 508.5h2M574 507.5h1M575 506.5h1M576 505.5h2M578 504.5h1M579 503.5h1M580 502.5h1M581 501.5h1M582 500.5h2M584 499.5h1M585 498.5h1M586 497.5h1M587 496.5h1M588 495.5h1M589 494.5h1M590 493.5h1M591 492.5h1M592 491.5h1M593 490.5h1M594 489.5h1M595.5 488v1M596.5 487v1M597.5 485v2M598.5 484v1M599.5 483v1M600.5 482v1M601.5 480v2M602.5 479v1M603.5 478v1M604.5 477v1M605.5 475v2M606.5 474v1M607.5 473v1M608.5 472v1M609.5 470v2M610.5 469v1M611.5 468v1M612.5 466v2M613.5 465v1M614.5 464v1M615.5 462v2M616.5 461v1M617.5 460v1M618.5 458v2M619.5 457v1M620.5 456v1M621.5 454v2M622.5 453v1M623.5 452v1M624.5 451v1M625.5 449v2M626.5 448v1M627.5 447v1M628.5 445v2M629.5 444v1M630.5 443v1M631.5 441v2M632.5 440v1M633.5 439v1M634.5 437v2M635.5 436v1M636.5 435v1M637.5 434v1M638.5 433v1M639.5 431v2M640.5 430v1M641.5 429v1M642.5 428v1M643.5 427v1M644.5 426v1M645.5 424v2M646.5 423v1M647.5 422v1M648.5 421v1M649.5 419v2M650.5 418v1M651.5 417v1M652.5 416v1M653.5 415v1M654.5 414v1M655.5 412v2M656.5 411v1M657.5 410v1M658.5 409v1M659 408.5h1M660 407.5h1M661 406.5h1M662 405.5h2M664 404.5h1M665 403.5h1M666 402.5h1M667.5 401v1M668.5 400v1M669.5 398v2M670.5 397v1M671.5 396v1M672.5 395v1M673.5 393v2M674.5 392v1M675.5 391v1M676.5 390v1M677.5 389v1M678.5 388v1M679.5 386v2M680.5 385v1M681.5 384v1M682.5 383v1M683 382.5h1M684 381.5h1M685 380.5h1M686 379.5h1M687 378.5h1M688 377.5h1M689 376.5h1M690 375.5h1M691.5 374v1M692.5 372v2M693.5 371v1M694.5 370v1M695.5 368v2M696.5 367v1M697.5 366v1M698.5 364v2M699.5 363v1M700.5 362v1M701.5 360v2M702.5 359v1M703.5 358v1M704.5 357v1M705.5 355v2M706.5 354v1M707.5 353v1M708.5 352v1M709.5 351v1M710.5 350v1M711.5 348v2M712.5 347v1M713.5 346v1M714.5 345v1M715.5 344v1M716.5 343v1M717.5 342v1M718.5 341v1M719.5 339v2M720.5 338v1M721.5 337v1M722.5 336v1M723 335.5h2M725 334.5h2M727 333.5h2M729 332.5h2M731 331.5h5M736 330.5h3M739 330.5h3M742 329.5h4M746 328.5h1M747 328.5h8M755 328.5h5M760 329.5h3M763 329.5h2M765 330.5h2M767 331.5h2M769 332.5h2M771 333.5h2M773 334.5h2M775 335.5h2M777 336.5h2M779 337.5h2M781 338.5h2M783 339.5h2M785 340.5h2M787 341.5h2M789 342.5h3M792 343.5h2M794 344.5h1M795 344.5h2M797 345.5h3M800 346.5h2M802 347.5h1M803 347.5h2M805 348.5h2M807 349.5h2M809 350.5h2M811 351.5h8M819 351.5h8M827 351.5h5M832 352.5h3M835 352.5h8M843 352.5h5M848 353.5h3M851 353.5h5M856 352.5h3M859 352.5h8M867 352.5h5M872 351.5h3M875 351.5h5M880 350.5h3M883 350.5h5M888 349.5h3M891 349.5h8M899 349.5h8M907 349.5h2M909 348.5h3M912 347.5h2M914 346.5h1M915 346.5h1M916 345.5h2M918 344.5h1M919 343.5h1M920 342.5h2M922 341.5h1M923 340.5h1M924 339.5h1M925 338.5h1M926 337.5h2M928 336.5h1M929 335.5h1M930 334.5h1M931 333.5h1M932 332.5h1M933 331.5h1M934 330.5h1M935 329.5h1M936 328.5h1M937 327.5h1M938 326.5h1M939 325.5h1M940 324.5h1M941 323.5h1M942 322.5h2M944 321.5h1M945 320.5h1M946 319.5h1M947 318.5h1M948 317.5h2M950 316.5h1M951 315.5h1M952 314.5h2M954 313.5h1M955 312.5h1M956 311.5h2M958 310.5h1M959 309.5h1M960 308.5h2M962 307.5h1M963 306.5h1M964 305.5h1M965 304.5h1M966 303.5h1M967 302.5h1M968 301.5h1M969 300.5h1M970 299.5h1M971 298.5h1M972 297.5h1M973 296.5h1M974 295.5h2M976 294.5h1M977 293.5h1M978 292.5h1M979 291.5h1M980 290.5h1M981 289.5h1M982 288.5h1M983 287.5h1M984 286.5h1M985 285.5h1M986 284.5h1M987 283.5h1M988 282.5h1M989 281.5h1M990 280.5h2M992 279.5h1M993 278.5h1M994 277.5h1M995 276.5h3M998 275.5h4M1002 274.5h1M1003 274.5h1M1004 273.5h2M1006 272.5h2M1008 271.5h1M1009 270.5h2M1011 269.5h1M1012 268.5h2M1014 267.5h2M1016 266.5h1M1017 265.5h2M1019 264.5h2M1021 263.5h3M1024 262.5h2M1026 261.5h1M1027 261.5h2M1029 260.5h2M1031 259.5h2M1033 258.5h2M1035 257.5h2M1037 256.5h2M1039 255.5h2M1041 254.5h2M1043 253.5h1M1044 252.5h2M1046 251.5h2M1048 250.5h1M1049 249.5h2M1051 248.5h1M1052 247.5h2M1054 246.5h2M1056 245.5h1M1057 244.5h2M1059 243.5h1M1060 242.5h2M1062 241.5h1M1063 240.5h1M1064 239.5h2M1066 238.5h1M1067 237.5h2M1069 236.5h2M1071 235.5h2M1073 234.5h2M1075 233.5h2M1077 232.5h2M1079 231.5h2M1081 230.5h2M1083 229.5h2M1085 228.5h2M1087 227.5h2M1089 226.5h2M1091 225.5h2M1093 224.5h2M1095 223.5h2M1097 222.5h2M1099 221.5h2M1101 220.5h2M1103 219.5h2M1105 218.5h2M1107 217.5h1M1108 216.5h2M1110 215.5h2M1112 214.5h1M1113 213.5h2M1115 212.5h1M1116 211.5h2M1118 210.5h2M1120 209.5h1M1121 208.5h2M1123 207.5h1M1124 206.5h2M1126 205.5h2M1128 204.5h1M1129 203.5h2M1131 202.5h1M1132 201.5h2M1134 200.5h2M1136 199.5h1M1137 198.5h2M1139 197.5h1M1140 196.5h2M1142 195.5h1M1143 194.5h1M1144 193.5h2M1146 192.5h1M1147 191.5h1M1148 190.5h1M1149 189.5h1M1150 188.5h1M1151 187.5h1M1152 186.5h1M1153 185.5h1M1154 184.5h1M1155.5 183v1M1156.5 181v2M1157.5 180v1M1158.5 178v2M1159.5 177v1M1160.5 175v2M1161.5 174v1M1162.5 172v2M1163.5 171v1M1164.5 170v1M1165.5 168v2M1166.5 167v1M1167.5 166v1M1168.5 165v1M1169.5 163v2M1170.5 162v1M1171.5 161v1M1172.5 159v2M1173.5 158v1M1174.5 156v2M1175.5 155v1M1176.5 153v2M1177.5 152v1M1178.5 150v2M1179.5 149v1M1180.5 147v2M1181.5 146v1M1182.5 145v1M1183.5 143v2M1184.5 142v1M1185.5 141v1M1186.5 139v2M1187 138.5h1" fill="none" stroke="#3cb371" stroke-width="1"/>
<path shape-rendering="crispEdges" d="M3 425.5h5M8 426.5h3M11 426.5h3M14 427.5h4M18 428.5h1M19 428.5h8M27 428.5h2M29 427.5h3M32 426.5h2M34 425.5h1M35 425.5h2M37 424.5h3M40 423.5h2M42 422.5h1M43 422.5h8M51 422.5h3M54 423.5h4M58 424.5h1M59 424.5h3M62 425.5h4M66 426.5h1M67 426.5h3M70 427.5h4M74 428.5h1M75 428.5h5M80 429.5h3M83 429.5h2M85 430.5h3M88 431.5h2M90 432.5h1M91 432.5h3M94 433.5h4M98 434.5h1M99 434.5h8M107 434.5h5M112 433.5h3M115 433.5h3M118 434.5h4M122 435.5h1M123 435.5h3M126 436.5h4M130 437.5h1M131 437.5h2M133 438.5h2M135 439.5h2M137 440.5h2M139 441.5h3M142 442.5h4M146 443.5h1M147 443.5h5M152 442.5h3M155 442.5h5M160 443.5h3M163 443.5h3M166 442.5h4M170 441.5h1M171 441.5h5M176 440.5h3M179 440.5h1M180 441.5h2M182 442.5h2M184 443.5h1M185 444.5h2M187 445.5h2M189 446.5h3M192 447.5h2M194 448.5h1M195 448.5h3M198 449.5h4M202 450.5h1M203 450.5h2M205 451.5h2M207 452.5h2M209 453.5h2M211 454.5h1M212 455.5h1M213 456.5h1M214 457.5h1M215 458.5h1M216 459.5h1M217 460.5h1M218 461.5h1M219.5 462v1M220.5 463v1M221.5 464v1M222.5 465v1M223.5 466v2M224.5 468v1M225.5 469v1M226.5 470v1M227 471.5h1M228 472.5h2M230 473.5h2M232 474.5h1M233 475.5h2M235 476.5h1M236 477.5h2M238 478.5h1M239 479.5h1M240 480.5h2M242 481.5h1M243 482.5h1M244 483.5h2M246 484.5h2M248 485.5h1M249 486.5h2M251 487.5h2M253 488.5h2M255 489.5h2M257 490.5h2M259 491.5h1M260 492.5h2M262 493.5h2M264 494.5h1M265 495.5h2M267 496.5h5M272 497.5h3M275 497.5h8M283 497.5h8M291 497.5h3M294 498.5h4M298 499.5h1M299 499.5h3M302 498.5h4M306 497.5h1M307 497.5h2M309 496.5h3M312 495.5h2M314 494.5h1M315 494.5h2M317 493.5h3M320 492.5h2M322 491.5h1M323 491.5h1M324 490.5h1M325 489.5h1M326 488.5h2M328 487.5h1M329 486.5h1M330 485.5h1M331 484.5h1M332 483.5h2M334 482.5h2M336 481.5h1M337 480.5h2M339 479.5h8M347 479.5h5M352 480.5h3M355 480.5h8M363 480.5h2M365 481.5h2M367 482.5h2M369 483.5h2M371.5 484v1M372.5 485v1M373.5 486v1M374.5 487v1M375.5 488v2M376.5 490v1M377.5 491v1M378.5 492v1M379 493.5h1M380 494.5h2M382 495.5h1M383 496.5h1M384 497.5h2M386 498.5h1M387 499.5h1M388 500.5h2M390 501.5h1M391 502.5h1M392 503.5h2M394 504.5h1M395 505.5h2M397 506.5h2M399 507.5h2M401 508.5h2M403 509.5h2M405 510.5h2M407 511.5h2M409 512.5h2M411 513.5h2M413 514.5h3M416 515.5h2M418 516.5h1M419 516.5h1M420 517.5h1M421 518.5h1M422 519.5h1M423 520.5h1M424 521.5h1M425 522.5h1M426 523.5h1M427 524.5h1M428 525.5h1M429 526.5h1M430 527.5h2M432 528.5h1M433 529.5h1M434 530.5h1M435 531.5h1M436 532.5h2M438 533.5h2M440 534.5h1M441 535.5h2M443 536.5h3M446 537.5h4M450 538.5h1M451 538.5h3M454 539.5h4M458 540.5h1M459 540.5h5M464 541.5h3M467 541.5h5M472 540.5h3M475 540.5h2M477 541.5h2M479 542.5h2M481 543.5h2M483 544.5h3M486 543.5h4M490 542.5h1M491 542.5h2M493 541.5h3M496 540.5h2M498 539.5h1M499 539.5h3M502 538.5h4M506 537.5h1M507 537.5h1M508 538.5h2M510 539.5h2M512 540.5h1M513 541.5h2M515 542.5h5M520 543.5h3M523 543.5h1M524 544.5h2M526 545.5h1M527 546.5h1M528 547.5h2M530 548.5h1M531 549.5h1M532 550.5h2M534 551.5h1M535 552.5h1M536 553.5h2M538 554.5h1M539 555.5h2M541 556.5h2M543 557.5h2M545 558.5h2M547 559.5h3M550 560.5h4M554 561.5h1M555 561.5h5M560 562.5h3M563.5 562v2M564.5 564v2M565.5 566v2M566.5 568v2M567.5 570v2M568.5 572v2M569.5 574v2M570.5 576v2M571.5 578v2M572.5 580v2M573.5 582v2M574.5 584v3M575.5 587v2M576.5 589v2M677.5 588v3M678.5 585v3M679.5 583v2M680.5 580v3M681.5 577v3M682.5 575v2M683.5 574v1M683.5 572v2M684.5 569v3M685.5 566v3M686.5 563v3M687.5 559v4M688.5 556v3M689.5 553v3M690.5 550v3M691.5 549v1M691.5 547v2M692.5 543v4M693.5 539v4M694.5 536v3M695.5 532v4M696.5 529v3M697.5 525v4M698.5 521v4M699.5 520v1M699.5 517v3M700.5 513v4M701.5 509v4M702.5 505v4M703.5 501v4M704.5 497v4M705.5 493v4M706.5 489v4M707.5 487v2M707.5 484v3M708.5 479v5M709.5 473v6M710.5 468v5M711.5 463v5M712.5 458v5M713.5 452v6M714.5 447v5M715.5 445v2M715.5 442v3M716.5 437v5M717.5 432v5M718.5 427v5M719.5 423v4M720.5 418v5M721.5 413v5M722.5 408v5M723.5 406v2M723.5 405v1M724.5 404v1M725.5 403v1M726.5 402v1M727.5 400v2M728.5 399v1M729.5 398v1M730.5 397v1M731 396.5h2M733 395.5h3M736 394.5h2M738 393.5h1M739 393.5h2M741 392.5h2M743 391.5h2M745 390.5h2M747 389.5h3M750 388.5h4M754 387.5h1M755 387.5h1M756 388.5h2M758 389.5h1M759 390.5h1M760 391.5h2M762 392.5h1M763 393.5h2M765 394.5h2M767 395.5h2M769 396.5h2M771 397.5h1M772 396.5h1M773 395.5h1M774 394.5h2M776 393.5h1M777 392.5h1M778 391.5h1M779 390.5h5M784 389.5h3M787 389.5h3M790 388.5h4M794 387.5h1M795 387.5h2M797 386.5h2M799 385.5h2M801 384.5h2M803 383.5h2M805 382.5h3M808 381.5h2M810 380.5h1M811 380.5h8M819 380.5h2M821 379.5h3M824 378.5h2M826 377.5h1M827 377.5h5M832 378.5h3M835 378.5h8M843 378.5h5M848 377.5h3M851 377.5h5M856 376.5h3M859 376.5h8M867 376.5h8M875 376.5h5M880 377.5h3M883 377.5h8M891 377.5h5M896 378.5h3M899 378.5h3M902 379.5h4M906 380.5h1M907.5 380v1M908.5 381v1M909.5 382v2M910.5 384v1M911.5 385v1M912.5 386v1M913.5 387v2M914.5 389v1M915.5 390v1M916.5 391v1M917.5 392v2M918.5 394v1M919.5 395v1M920.5 396v1M921.5 397v2M922.5 399v1M923 400.5h1M924 401.5h2M926 402.5h2M928 403.5h1M929 404.5h2M931 405.5h1M932 406.5h2M934 407.5h2M936 408.5h1M937 409.5h2M939 410.5h1M940 411.5h2M942 412.5h2M944 413.5h1M945 414.5h2M947 415.5h2M949 416.5h2M951 417.5h2M953 418.5h2M955 419.5h5M960 420.5h3M963 420.5h2M965 419.5h3M968 418.5h2M970 417.5h1M971 417.5h1M972 416.5h2M974 415.5h2M976 414.5h1M977 413.5h2M979 412.5h1M980 411.5h1M981 410.5h1M982 409.5h2M984 408.5h1M985 407.5h1M986 406.5h1M987.5 405v1M988.5 404v1M989.5 403v1M990.5 402v1M991.5 400v2M992.5 399v1M993.5 398v1M994.5 397v1M995.5 396v1M996.5 395v1M997.5 394v1M998.5 393v1M999.5 391v2M1000.5 390v1M1001.5 389v1M1002.5 388v1M1003.5 387v1M1004.5 386v1M1005.5 385v1M1006.5 384v1M1007.5 382v2M1008.5 381v1M1009.5 380v1M1010.5 379v1M1011.5 378v1M1012.5 377v1M1013.5 376v1M1014.5 375v1M1015.5 373v2M1016.5 372v1M1017.5 371v1M1018.5 370v1M1019.5 369v1M1020.5 367v2M1021.5 366v1M1022.5 364v2M1023.5 363v1M1024.5 361v2M1025.5 360v1M1026.5 358v2M1027.5 357v1M1028.5 356v1M1029.5 354v2M1030.5 353v1M1031.5 352v1M1032.5 351v1M1033.5 349v2M1034.5 348v1M1035.5 347v1M1036.5 345v2M1037.5 344v1M1038.5 343v1M1039.5 341v2M1040.5 340v1M1041.5 339v1M1042.5 337v2M1043.5 336v1M1044.5 335v1M1045.5 334v1M1046.5 333v1M1047.5 331v2M1048.5 330v1M1049.5 329v1M1050.5 328v1M1051.5 326v2M1052.5 324v2M1053.5 322v2M1054.5 320v2M1055.5 317v3M1056.5 315v2M1057.5 313v2M1058.5 311v2M1059.5 310v1M1059.5 309v1M1060.5 307v2M1061.5 305v2M1062.5 303v2M1063.5 301v2M1064.5 299v2M1065.5 297v2M1066.5 295v2M1067 294.5h2M1069 293.5h3M1072 292.5h2M1074 291.5h1M1075 291.5h3M1078 292.5h4M1082 293.5h1M1083 293.5h5M1088 294.5h3M1091 294.5h8M1099.5 294v1M1100.5 295v1M1101.5 296v2M1102.5 298v1M1103.5 299v1M1104.5 300v1M1105.5 301v2M1106.5 303v1M1107 304.5h1M1108 305.5h1M1109 306.5h1M1110 307.5h1M1111 308.5h1M1112 309.5h1M1113 310.5h1M1114 311.5h1M1115 312.5h2M1117 313.5h2M1119 314.5h2M1121 315.5h2M1123 316.5h2M1125 317.5h3M1128 318.5h2M1130 319.5h1M1131 319.5h5M1136 320.5h3M1139 320.5h2M1141 321.5h3M1144 322.5h2M1146 323.5h1M1147 323.5h2M1149 324.5h2M1151 325.5h2M1153 326.5h2M1155.5 327v1M1156.5 326v1M1157.5 325v1M1158.5 324v1M1159.5 322v2M1160.5 321v1M1161.5 320v1M1162.5 319v1M1163 318.5h1M1164 317.5h1M1165 316.5h1M1166 315.5h1M1167 314.5h1M1168 313.5h1M1169 312.5h1M1170 311.5h1M1171.5 310v1M1172.5 308v2M1173.5 306v2M1174.5 305v1M1175.5 303v2M1176.5 302v1M1177.5 300v2M1178.5 298v2M1179.5 297v1M1180.5 295v2M1181.5 293v2M1182.5 291v2M1183.5 289v2M1184.5 287v2M1185.5 285v2M1186.5 283v2M1187 282.5h1" fill="none" stroke="#3cb371" stroke-width="1"/>
<path shape-rendering="crispEdges" d="M3 630.5h3M6 629.5h4M10 628.5h1M11 628.5h5M16 629.5h3M19 629.5h3M22 630.5h4M26 631.5h1M27 631.5h3M30 632.5h4M34 633.5h1M35 633.5h5M40 634.5h3M43 634.5h1M44 635.5h1M45 636.5h1M46 637.5h2M48 638.5h1M49 639.5h1M50 640.5h1M51.5 641v1M52.5 642v1M53.5 643v1M54.5 644v1M55.5 645v2M56.5 647v1M57.5 648v1M58.5 649v1M59 650.5h3M62 651.5h4M66 652.5h1M67 652.5h3M70 653.5h4M74 654.5h1M75 654.5h2M77 655.5h3M80 656.5h2M82 657.5h1M83 657.5h1M84 656.5h2M86 655.5h2M88 654.5h1M89 653.5h2M91 652.5h5M96 653.5h3M99 653.5h3M102 654.5h4M106 655.5h1M107 655.5h1M108 654.5h1M109 653.5h1M110 652.5h2M112 651.5h1M113 650.5h1M114 649.5h1M115 648.5h2M117 649.5h3M120 650.5h2M122 651.5h1M123 651.5h8M131 651.5h1M132 652.5h2M134 653.5h2M136 654.5h1M137 655.5h2M139 656.5h1M140 655.5h2M142 654.5h1M143 653.5h1M144 652.5h2M146 651.5h1M147 650.5h3M150 649.5h4M154 648.5h1M155 648.5h5M160 649.5h3M163 649.5h5M168 648.5h3M171 648.5h1M172 649.5h1M173 650.5h1M174 651.5h2M176 652.5h1M177 653.5h1M178 654.5h1M179 655.5h1M180 656.5h1M181 657.5h1M182 658.5h1M183 659.5h1M184 660.5h1M185 661.5h1M186 662.5h1M187 663.5h5M192 664.5h3M195 664.5h8M203 664.5h3M206 665.5h4M210 666.5h1M211 666.5h8M219 666.5h2M221 667.5h2M223 668.5h2M225 669.5h2M227.5 669v2M228.5 667v2M229.5 665v2M230.5 663v2M231.5 661v2M232.5 659v2M233.5 657v2M234.5 655v2M235 654.5h2M237 655.5h2M239 656.5h2M241 657.5h2M243 658.5h2M245 659.5h3M248 660.5h2M250 661.5h1M251 661.5h8M259 661.5h8M267 661.5h2M269 660.5h2M271 659.5h2M273 658.5h2M275 657.5h3M278 656.5h4M282 655.5h1M283 655.5h1M284 654.5h1M285 653.5h1M286 652.5h2M288 651.5h1M289 650.5h1M290 649.5h1M291 648.5h1M292 649.5h1M293 650.5h1M294 651.5h2M296 652.5h1M297 653.5h1M298 654.5h1M299 655.5h2M301 654.5h2M303 653.5h2M305 652.5h2M307 651.5h3M310 650.5h4M314 649.5h1M315 649.5h3M318 650.5h4M322 651.5h1M323 651.5h2M325 650.5h2M327 649.5h2M329 648.5h2M331 647.5h3M334 646.5h4M338 645.5h1M339 645.5h2M341 646.5h2M343 647.5h2M345 648.5h2M347 649.5h2M349 648.5h2M351 647.5h2M353 646.5h2M355 645.5h2M357 646.5h3M360 647.5h2M362 648.5h1M363.5 648v1M364.5 649v2M365.5 651v1M366.5 652v1M367.5 653v2M368.5 655v1M369.5 656v1M370.5 657v2M371 659.5h1M372 660.5h2M374 661.5h2M376 662.5h1M377 663.5h2M379 664.5h2M381 663.5h2M383 662.5h2M385 661.5h2M387 660.5h8M395 660.5h3M398 661.5h4M402 662.5h1M403 662.5h2M405 661.5h2M407 660.5h2M409 659.5h2M411 658.5h2M413 657.5h3M416 656.5h2M418 655.5h1M419.5 655v1M420.5 656v1M421.5 657v1M422.5 658v1M423.5 659v2M424.5 661v1M425.5 662v1M426.5 663v1M427 664.5h1M428 663.5h2M430 662.5h1M431 661.5h1M432 660.5h2M434 659.5h1M435 658.5h8M443 658.5h2M445 657.5h2M447 656.5h2M449 655.5h2M451 654.5h2M453 653.5h3M456 652.5h2M458 651.5h1M459 651.5h3M462 652.5h4M466 653.5h1M467.5 653v1M468.5 652v1M469.5 651v1M470.5 650v1M471.5 648v2M472.5 647v1M473.5 646v1M474.5 645v1M475.5 644v1M476.5 645v2M477.5 647v1M478.5 648v2M479.5 650v1M480.5 651v2M481.5 653v1M482.5 654v2M483 656.5h1M484 655.5h1M485 654.5h1M486 653.5h2M488 652.5h1M489 651.5h1M490 650.5h1M491 649.5h5M496 648.5h3M499 648.5h5M504 649.5h3M507.5 649v1M508.5 650v2M509.5 652v2M510.5 654v1M511.5 655v2M512.5 657v1M513.5 658v2M514.5 660v2M515 662.5h1M516 661.5h2M518 660.5h1M519 659.5h1M520 658.5h2M522 657.5h1M523 656.5h2M525 657.5h3M528 658.5h2M530 659.5h1M531 659.5h2M533 658.5h3M536 657.5h2M538 656.5h1M539 656.5h5M544 657.5h3M547 657.5h2M549 656.5h3M552 655.5h2M554 654.5h1M555 654.5h1M556 653.5h2M558 652.5h1M559 651.5h1M560 650.5h2M562 649.5h1M563.5 647v2M564.5 645v2M565.5 643v2M566.5 640v3M567.5 638v2M568.5 635v3M569.5 633v2M570.5 631v2M571.5 630v1M571 629.5h2M573 628.5h3M576 627.5h2M578 626.5h1M579 626.5h8M587 626.5h5M592 625.5h3M595 625.5h3M598 624.5h4M602 623.5h1M603 623.5h2M605 622.5h3M608 621.5h2M610 620.5h1M611 620.5h2M613 619.5h2M615 618.5h2M617 617.5h2M619.5 616v1M620.5 617v2M621.5 619v1M622.5 620v1M623.5 621v2M624.5 623v1M625.5 624v1M626.5 625v2M627 627.5h3M630 628.5h4M634 629.5h1M635 629.5h3M638 628.5h4M642 627.5h1M643 627.5h2M645 628.5h3M648 629.5h2M650 630.5h1M651 630.5h1M652 631.5h1M653 632.5h1M654 633.5h1M655 634.5h1M656 635.5h1M657 636.5h1M658 637.5h1M659 638.5h1M660 639.5h2M662 640.5h2M664 641.5h1M665 642.5h2M667 643.5h2M669 642.5h2M671 641.5h2M673 640.5h2M675 639.5h5M680 638.5h3M683 638.5h8M691 638.5h1M692 639.5h2M694 640.5h1M695 641.5h1M696 642.5h2M698 643.5h1M699 644.5h3M702 643.5h4M706 642.5h1M707 642.5h5M712 641.5h3M715 641.5h8M723 641.5h8M731 641.5h3M734 640.5h4M738 639.5h1M739 639.5h5M744 638.5h3M747 638.5h5M752 637.5h3M755.5 637v1M756.5 638v2M757.5 640v2M758.5 642v1M759.5 643v2M760.5 645v1M761.5 646v2M762.5 648v2M763 650.5h2M765 649.5h3M768 648.5h2M770 647.5h1M771 647.5h2M773 646.5h3M776 645.5h2M778 644.5h1M779 644.5h3M782 645.5h4M786 646.5h1M787 646.5h3M790 645.5h4M794 644.5h1M795 644.5h8M803 644.5h2M805 645.5h3M808 646.5h2M810 647.5h1M811 647.5h2M813 646.5h3M816 645.5h2M818 644.5h1M819 644.5h5M824 645.5h3M827 645.5h5M832 644.5h3M835 644.5h8M843 644.5h5M848 643.5h3M851 643.5h5M856 644.5h3M859 644.5h3M862 643.5h4M866 642.5h1M867 642.5h2M869 641.5h2M871 640.5h2M873 639.5h2M875 638.5h5M880 639.5h3M883 639.5h2M885 638.5h2M887 637.5h2M889 636.5h2M891.5 635v1M892.5 636v1M893.5 637v1M894.5 638v1M895.5 639v2M896.5 641v1M897.5 642v1M898.5 643v1M899 644.5h1M900 643.5h1M901 642.5h1M902 641.5h1M903 640.5h1M904 639.5h1M905 638.5h1M906 637.5h1M907.5 636v1M908.5 635v1M909.5 634v1M910.5 633v1M911.5 631v2M912.5 630v1M913.5 629v1M914.5 628v1M915 627.5h2M917 626.5h2M919 625.5h2M921 624.5h2M923 623.5h8M931 623.5h8M939 623.5h1M940 622.5h2M942 621.5h2M944 620.5h1M945 619.5h2M947 618.5h5M952 619.5h3M955 619.5h8M963 619.5h2M965 620.5h2M967 621.5h2M969 622.5h2M971 623.5h5M976 624.5h3M979 624.5h8M987 624.5h2M989 625.5h2M991 626.5h2M993 627.5h2M995.5 628v2M996.5 630v3M997.5 633v2M998.5 635v3M999.5 638v3M1000.5 641v3M1001.5 644v2M1002.5 646v3M1003.5 649v1M1003 650.5h1M1004 649.5h1M1005 648.5h1M1006 647.5h2M1008 646.5h1M1009 645.5h1M1010 644.5h1M1011 643.5h3M1014 644.5h4M1018 645.5h1M1019 645.5h5M1024 644.5h3M1027 644.5h3M1030 643.5h4M1034 642.5h1M1035 642.5h8M1043 642.5h2M1045 641.5h2M1047 640.5h2M1049 639.5h2M1051 638.5h2M1053 637.5h3M1056 636.5h2M1058 635.5h1M1059 635.5h1M1060 634.5h1M1061 633.5h1M1062 632.5h2M1064 631.5h1M1065 630.5h1M1066 629.5h1M1067 628.5h8M1075 628.5h2M1077 627.5h3M1080 626.5h2M1082 625.5h1M1083 625.5h3M1086 626.5h4M1090 627.5h1M1091 627.5h8M1099 627.5h1M1100 626.5h1M1101 625.5h1M1102 624.5h1M1103 623.5h1M1104 622.5h1M1105 621.5h1M1106 620.5h1M1107 619.5h5M1112 618.5h3M1115 618.5h5M1120 619.5h3M1123 619.5h2M1125 620.5h3M1128 621.5h2M1130 622.5h1M1131 622.5h5M1136 621.5h3M1139 621.5h2M1141 620.5h3M1144 619.5h2M1146 618.5h1M1147 618.5h2M1149 617.5h3M1152 616.5h2M1154 615.5h1M1155 615.5h3M1158 614.5h4M1162 613.5h1M1163 613.5h5M1168 614.5h3M1171 614.5h1M1172 615.5h2M1174 616.5h1M1175 617.5h1M1176 618.5h2M1178 619.5h1M1179 620.5h8M1187 620.5h1" fill="none" stroke="#1e90ff" stroke-width="1"/>
<rect x="0" y="592" width="1240" height="1" fill="#fff"/>
<g shape-rendering="crispEdges" fill="none" stroke="#000080" stroke-width="1"><path d="M2.5 2.5H1239.5V591.5H2.5zM2.5 593.5H1239.5V699.5H2.5z"/>
<path d="M1240 19.5H1242M1240 56.5H1242M1240 94.5H1242M1240 131.5H1242M1240 169.5H1242M1240 207.5H1242M1240 244.5H1242M1240 282.5H1242M1240 320.5H1242M1240 357.5H1242M1240 395.5H1242M1240 432.5H1242M1240 470.5H1242M1240 508.5H1242M1240 545.5H1242M1240 583.5H1242M1240 595.5H1241M1240 698.5H1241M3.5 700V703M67.5 700V703M131.5 700V703M195.5 700V703M259.5 700V703M323.5 700V703M387.5 700V703M451.5 700V703M515.5 700V703M579.5 700V703M643.5 700V703M707.5 700V703M771.5 700V703M835.5 700V703M899.5 700V703M963.5 700V703M1027.5 700V703M1091.5 700V703M1155.5 700V703"/></g>
<path shape-rendering="crispEdges" d="M3 52.5H1241" stroke="#d8d8d8" stroke-width="1"/>
<text transform="translate(1245.3 23) scale(0.94 1)">1.1140</text>
<text transform="translate(1245.3 60) scale(0.94 1)">1.1115</text>
<text transform="translate(1245.3 98) scale(0.94 1)">1.1090</text>
<text transform="translate(1245.3 135) scale(0.94 1)">1.1065</text>
<text transform="translate(1245.3 173) scale(0.94 1)">1.1040</text>
<text transform="translate(1245.3 211) scale(0.94 1)">1.1015</text>
<text transform="translate(1245.3 248) scale(0.94 1)">1.0990</text>
<text transform="translate(1245.3 286) scale(0.94 1)">1.0965</text>
<text transform="translate(1245.3 324) scale(0.94 1)">1.0940</text>
<text transform="translate(1245.3 361) scale(0.94 1)">1.0915</text>
<text transform="translate(1245.3 399) scale(0.94 1)">1.0890</text>
<text transform="translate(1245.3 436) scale(0.94 1)">1.0865</text>
<text transform="translate(1245.3 474) scale(0.94 1)">1.0840</text>
<text transform="translate(1245.3 512) scale(0.94 1)">1.0815</text>
<text transform="translate(1245.3 549) scale(0.94 1)">1.0790</text>
<text transform="translate(1245.3 587) scale(0.94 1)">1.0765</text>
<rect x="1241" y="47" width="36" height="11" fill="#000080"/>
<text transform="translate(1245.3 56) scale(0.94 1)" style="fill:#fff;stroke:#fff;stroke-width:.3px">1.1118</text>
<text transform="translate(1243.3 604) scale(0.94 1)">100</text>
<text transform="translate(1243.3 630) scale(0.94 1)">70</text>
<text transform="translate(1243.3 671) scale(0.94 1)">30</text>
<text transform="translate(1243.3 696) scale(0.94 1)">0</text>
<text transform="translate(2.4 712) scale(0.915 1)">17 Jul 2024</text>
<text transform="translate(66.4 712) scale(0.915 1)">19 Jul 00:00</text>
<text transform="translate(130.4 712) scale(0.915 1)">22 Jul 08:00</text>
<text transform="translate(194.4 712) scale(0.915 1)">23 Jul 16:00</text>
<text transform="translate(258.4 712) scale(0.915 1)">25 Jul 00:00</text>
<text transform="translate(322.4 712) scale(0.915 1)">26 Jul 08:00</text>
<text transform="translate(386.4 712) scale(0.915 1)">29 Jul 16:00</text>
<text transform="translate(450.4 712) scale(0.915 1)">31 Jul 00:00</text>
<text transform="translate(514.4 712) scale(0.94 1)">1 Aug 08:00</text>
<text transform="translate(578.4 712) scale(0.94 1)">2 Aug 16:00</text>
<text transform="translate(642.4 712) scale(0.94 1)">6 Aug 00:00</text>
<text transform="translate(706.4 712) scale(0.94 1)">7 Aug 08:00</text>
<text transform="translate(770.4 712) scale(0.94 1)">8 Aug 16:00</text>
<text transform="translate(834.4 712) scale(0.94 1)">12 Aug 00:00</text>
<text transform="translate(898.4 712) scale(0.94 1)">13 Aug 08:00</text>
<text transform="translate(962.4 712) scale(0.94 1)">14 Aug 16:00</text>
<text transform="translate(1026.4 712) scale(0.94 1)">16 Aug 00:00</text>
<text transform="translate(1090.4 712) scale(0.94 1)">19 Aug 08:00</text>
<text transform="translate(1154.4 712) scale(0.94 1)">20 Aug 16:00</text>
<path shape-rendering="crispEdges" d="M6 9h7v1h-1v1h-1v1h-1v1h-1v-1h-1v-1h-1v-1h-1z" fill="#000080"/>
<text transform="translate(18.2 14) scale(0.94 1)">EURUSD,H4</text>
<text transform="translate(78.4 14) scale(0.94 1)">1.1119</text>
<text transform="translate(109.6 14) scale(0.94 1)">1.1120</text>
<text transform="translate(140.4 14) scale(0.94 1)">1.1112</text>
<text transform="translate(171.6 14) scale(0.94 1)">1.1118</text>
<text transform="translate(7 606) scale(0.94 1)">RSI(14) 75.7460</text>
</svg></body></html>
